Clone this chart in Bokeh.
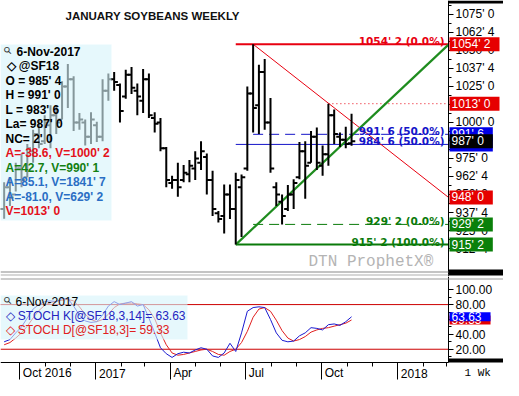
import math
import pandas as pd
from bokeh.plotting import figure
from bokeh.models import (Range1d, FixedTicker, CustomJSTickFormatter, Label,
                          BoxAnnotation, ColumnDataSource)
from bokeh.layouts import column
from bokeh.embed import file_html
from bokeh.resources import INLINE

# ---------------- data ----------------
first_week = "2016-09-12"
opens = [940, 955, 950, 968, 962, 980, 992, 987, 998, 1005, 1002, 1025, 1030, 1000, 1000, 990,
         998, 990, 1022, 1030, 1026, 1018, 1033, 1022, 1015, 1030, 1003, 1000, 982, 958, 960, 960,
         964, 968, 972, 976, 960, 937, 935, 950, 940, 955, 968, 1020, 1012, 1035, 1000, 955, 945,
         940, 950, 962, 980, 972, 990, 970, 978, 1005, 990, 988, 985.5]
highs = [958.5, 962, 972, 978.5, 985, 995, 1002, 1005, 1012, 1012, 1028.5, 1040.5, 1032, 1006.5, 1002, 1007,
         1000.5, 1030, 1034, 1035, 1027, 1036.5, 1038.5, 1027, 1037, 1034, 1007, 1003, 983, 963, 972, 970.5,
         974, 980, 987, 978.5, 966.5, 938.5, 957, 957, 965, 963.8, 1025, 1054.25, 1040, 1044, 1017, 958.5, 950,
         956.5, 960.5, 986.5, 987, 994, 996.5, 984, 1013, 1009, 993, 997, 1006]
lows = [933.2, 942, 952, 955, 962, 972, 982, 985, 982, 992, 1002, 1010, 994, 995, 984, 985,
        986.5, 987, 1015, 1022, 1000, 1016.5, 1019.8, 1005, 1006.5, 1003, 993, 980, 955, 954, 948.5, 958.5,
        958.5, 960, 967, 950, 935, 930.5, 923, 933, 915.25, 920.5, 966.5, 993, 992, 995, 965, 942, 929.25,
        938.5, 940, 960.5, 947, 972, 967, 963, 970, 985, 983, 982, 983.75]
closes = [955, 948, 968, 960, 982, 992, 985, 1000, 1005, 1000, 1025, 1030, 1000, 1002, 990, 1002,
          990, 1022, 1030, 1028, 1008, 1033, 1024, 1018, 1030, 1005, 999, 982, 960, 960, 955, 965,
          970, 975, 980, 960, 940, 933, 950, 940, 960, 962, 1020, 1010, 1035, 1000, 968, 950, 935,
          950, 958, 980, 970, 990, 972, 978, 1005, 992, 988, 985, 987]
stoch_k = [30, 33, 42, 50, 62, 74, 80, 84, 85, 84, 88, 88, 78, 66, 58, 56,
           57, 66, 78, 84, 80, 82, 84, 78, 80, 62, 42, 22, 14, 9, 14, 16,
           15, 19, 22, 20, 11, 9, 15, 28, 17, 42, 71, 76, 77, 76, 60, 42, 32,
           30, 31, 38, 42, 49, 48, 46, 53, 54, 52, 57, 63.63]
stoch_d = [26, 29, 35, 42, 51, 62, 72, 79, 83, 84, 86, 87, 85, 77, 67, 60,
           57, 60, 67, 76, 81, 82, 82, 81, 80, 73, 61, 42, 26, 15, 12, 13,
           15, 17, 19, 20, 17, 13, 12, 17, 20, 29, 44, 63, 74, 76, 71, 59, 45,
           35, 31, 33, 37, 43, 46, 48, 49, 51, 53, 55, 59.33]

fib1_start = "2017-06-19"
fib1_levels = [1054.25, 984.75, 915.25]
fib1_pcts = ["0.0%", "50.0%", "100.0%"]
fib2_start = "2017-07-10"
fib2_levels = [929.25, 991.75]
fib2_pcts = ["0.0%", "50.0%"]
resist_start = "2017-10-09"
resist_level = 1013.0
up_trend_start = ("2017-06-19", 915.25)
up_trend_end_value = 1054.0
down_trend_start = ("2017-07-10", 1054.25)
down_trend_end_value = 948.0
last_price = 987.0
stoch_levels = [80, 20]

price_ticks = [912.5 + 12.5 * i for i in range(14)]
stoch_ticks = [20, 40, 60, 80, 100]
quarter_ticks = ["2016-10-01", "2017-01-01", "2017-04-01", "2017-07-01", "2017-10-01", "2018-01-01"]
quarter_labels = ["Oct 2016", "2017", "Apr", "Jul", "Oct", "2018"]
month_ticks = pd.date_range("2016-09-01", "2018-03-01", freq="MS")

info_lines = [("6-Nov-2017", "#000000"), ("\u25c7 @SF18", "#000000"), ("O = 985' 4", "#000000"),
              ("H = 991' 0", "#000000"), ("L = 983' 6", "#000000"), ("La= 987' 0", "#000000"),
              ("NC= 2' 0", "#000000"), ("A=-38.6, V=1000' 2", "#e3121b"),
              ("A=42.7, V=990' 1", "#128012"), ("A=85.1, V=1841' 7", "#2a6ec4"),
              ("A=-81.0, V=629' 2", "#2a6ec4"), ("V=1013' 0", "#e3121b")]
stoch_info = [("6-Nov-2017", "#000000"), ("\u25c7 STOCH K[@SF18,3,14]= 63.63", "#2424c0"),
              ("\u25c7 STOCH D[@SF18,3]= 59.33", "#e02020")]

# ---------------- helpers ----------------
def q(v):
    w = math.floor(v + 1e-9)
    e = int(round((v - w) * 8))
    return f"{w}' {e}"

dates = pd.date_range(first_week, periods=len(highs), freq="7D")

W = 503          # canvas width
AX = 448         # x pixel of the price axis
x_start = pd.Timestamp("2016-09-07 14:00")
x_axis = pd.Timestamp("2018-03-03 05:00")
days_per_px = (x_axis - x_start) / AX
x_full_end = x_start + days_per_px * W
x_axis_ms = x_axis.value / 1e6
xr = Range1d(x_start, x_full_end)

MAIN_H = 276
ST_H = 104
ST_TOP_V, ST_AX_V = 113.72, 2.18      # stoch values at data-area top / axis line
ST_PX_PER = 83 / (ST_TOP_V - ST_AX_V)
st_lo = ST_AX_V - 18 / ST_PX_PER
st_hi = ST_TOP_V + 3 / ST_PX_PER

FONT = "Liberation Sans"
RED, BLUE, DGREEN = "#e80010", "#1414c8", "#0a7a0a"

quote_fmt = CustomJSTickFormatter(code="""
const w = Math.floor(tick + 1e-9);
const e = Math.round((tick - w) * 8);
return w + "' " + e;""")


def box(fig, l, r, b, t, color, alpha=1.0):
    fig.add_layout(BoxAnnotation(left=l, right=r, bottom=b, top=t, left_units="screen",
                                 right_units="screen", bottom_units="screen", top_units="screen",
                                 fill_color=color, fill_alpha=alpha, line_color=None,
                                 line_alpha=0))


def tag(fig, y, text, bg):
    fig.add_layout(Label(x=AX + 1, y=y, x_units="screen", y_units="data", text=text,
                         text_font=FONT, text_font_size="12px", text_color="white",
                         text_baseline="middle", background_fill_color=bg,
                         padding={"left": 2, "right": 9, "top": 0, "bottom": 0}))


def magnifier(fig, x, y):
    fig.add_layout(Label(x=x, y=y, x_units="screen", y_units="screen", text="\u26b2",
                         angle=math.pi / 4, text_font="DejaVu Sans", text_font_size="10px",
                         text_color="#333333", text_baseline="middle", text_align="center"))


def style_yaxis(ax):
    ax.fixed_location = x_axis_ms
    ax.major_label_text_font = FONT
    ax.major_label_text_font_size = "12px"
    ax.major_label_text_color = "black"
    ax.major_tick_out = 5
    ax.major_tick_in = 0
    ax.minor_tick_out = 3
    ax.minor_tick_in = 0
    ax.major_label_standoff = 2
    ax.axis_line_color = "black"


# ---------------- main price panel ----------------
p = figure(width=W, height=MAIN_H, x_range=xr, y_range=Range1d(893.1, 1084.6),
           x_axis_location=None, y_axis_location="right", toolbar_location=None,
           output_backend="svg", min_border=0, min_border_left=0, min_border_right=0,
           min_border_top=0, min_border_bottom=0, outline_line_color=None,
           background_fill_color="white", border_fill_color="white")
p.xgrid.visible = False
p.ygrid.visible = False
ya = p.yaxis[0]
ya.ticker = FixedTicker(ticks=price_ticks, minor_ticks=[t + 6.25 for t in price_ticks])
ya.formatter = quote_fmt
style_yaxis(ya)

fib1_x = pd.Timestamp(fib1_start)
fib2_x = pd.Timestamp(fib2_start)
p.segment(x0=[fib1_x], x1=[x_axis], y0=[fib1_levels[0]], y1=[fib1_levels[0]], line_color=RED, line_width=2)
p.segment(x0=[fib1_x], x1=[x_axis], y0=[fib1_levels[1]], y1=[fib1_levels[1]], line_color=BLUE, line_width=1)
p.segment(x0=[fib1_x], x1=[x_axis], y0=[fib1_levels[2]], y1=[fib1_levels[2]], line_color=DGREEN, line_width=2)
p.segment(x0=[fib2_x], x1=[x_axis], y0=[fib2_levels[0]], y1=[fib2_levels[0]], line_color=DGREEN,
          line_width=1, line_dash="10 6")
p.segment(x0=[fib2_x], x1=[x_axis], y0=[fib2_levels[1]], y1=[fib2_levels[1]], line_color=BLUE,
          line_width=1, line_dash="10 6")
p.segment(x0=[pd.Timestamp(resist_start)], x1=[x_axis], y0=[resist_level], y1=[resist_level],
          line_color=RED, line_width=1, line_dash="1 3")
p.segment(x0=[pd.Timestamp(down_trend_start[0])], x1=[x_axis], y0=[down_trend_start[1]],
          y1=[down_trend_end_value], line_color=RED, line_width=1)
p.segment(x0=[pd.Timestamp(up_trend_start[0])], x1=[x_axis], y0=[up_trend_start[1]],
          y1=[up_trend_end_value], line_color="#1e8c1e", line_width=2.2)

src = ColumnDataSource(dict(x=dates, o=opens, h=highs, l=lows, c=closes,
                            xl=dates - pd.Timedelta(days=4.5), xr=dates + pd.Timedelta(days=4.5)))
p.segment(x0="x", x1="x", y0="l", y1="h", source=src, line_color="black", line_width=2)
p.segment(x0="xl", x1="x", y0="o", y1="o", source=src, line_color="black", line_width=2)
p.segment(x0="x", x1="xr", y0="c", y1="c", source=src, line_color="black", line_width=2)


def fib_text(level, pct, color):
    p.add_layout(Label(x=AX - 4, y=level, x_units="screen", y_units="data",
                       text=f"{q(level)} ({pct})", text_align="right", text_baseline="alphabetic",
                       y_offset=3, text_font="DejaVu Sans", text_font_style="bold",
                       text_font_size="10.5px", text_color=color))


fib_text(fib1_levels[0], fib1_pcts[0], RED)
fib_text(fib2_levels[1], fib2_pcts[1], BLUE)
fib_text(fib1_levels[1], fib1_pcts[1], BLUE)
fib_text(fib2_levels[0], fib2_pcts[0], DGREEN)
fib_text(fib1_levels[2], fib1_pcts[2], DGREEN)

# info box
box(p, 0, 111, 56, 232, "#d6f3fa", 0.62)
for i, (t, c) in enumerate(info_lines):
    xo = 16 if i == 0 else (6 if i == 1 else 5)
    p.add_layout(Label(x=xo, y=225 - 14.5 * i, x_units="screen", y_units="screen",
                       text=t, text_color=c, text_font=FONT, text_font_style="bold",
                       text_font_size="12px", text_baseline="middle"))
magnifier(p, 7, 226)

p.add_layout(Label(x=65, y=260.5, x_units="screen", y_units="screen",
                   text="JANUARY SOYBEANS WEEKLY", text_font=FONT, text_font_style="bold",
                   text_font_size="11.5px", text_baseline="middle", text_color="#111111"))
p.add_layout(Label(x=308, y=14.7, x_units="screen", y_units="screen", text="DTN ProphetX\u00ae",
                   text_font="Liberation Mono", text_font_size="16px", text_color="#b4b4b4",
                   text_baseline="middle"))

# frame decorations
box(p, AX, W, 273, 276, "black")
box(p, AX, W, 1, 7, "black")
box(p, 0, AX, 4, 5, "#8a8a8a")
box(p, 0, AX, 1, 2, "#b0b0b0")

tag(p, fib1_levels[0], q(fib1_levels[0]), "#e60000")
tag(p, resist_level, q(resist_level), "#e60000")
tag(p, fib2_levels[1], q(fib2_levels[1]), "#0000e6")
tag(p, fib1_levels[1], q(fib1_levels[1]), "#0000e6")
tag(p, last_price, q(last_price), "black")
tag(p, down_trend_end_value, q(down_trend_end_value), "#e60000")
tag(p, fib2_levels[0], q(fib2_levels[0]), "#0a800a")
tag(p, fib1_levels[2], q(fib1_levels[2]), "#0a800a")

# ---------------- stochastic panel ----------------
s = figure(width=W, height=ST_H, x_range=xr, y_range=Range1d(st_lo, st_hi),
           x_axis_type="datetime", x_axis_location="below", y_axis_location="right",
           toolbar_location=None, output_backend="svg", min_border=0, min_border_left=0,
           min_border_right=0, min_border_top=0, min_border_bottom=0,
           outline_line_color=None, background_fill_color="white", border_fill_color="white")
s.xgrid.visible = False
s.ygrid.visible = False
sy = s.yaxis[0]
sy.ticker = FixedTicker(ticks=stoch_ticks, minor_ticks=[10, 30, 50, 70, 90])
sy.formatter = CustomJSTickFormatter(code="return tick.toFixed(2);")
style_yaxis(sy)
sy.bounds = (ST_AX_V, st_hi)

sx = s.xaxis[0]
sx.fixed_location = ST_AX_V
sx.bounds = (x_start.value / 1e6, x_axis_ms)
sx.ticker = FixedTicker(ticks=[pd.Timestamp(t).value / 1e6 for t in quarter_ticks],
                        minor_ticks=[t.value / 1e6 for t in month_ticks])
sx.formatter = CustomJSTickFormatter(code="return '';")
sx.major_tick_out = 17
sx.major_tick_in = 0
sx.minor_tick_out = 4
sx.minor_tick_in = 0
sx.major_label_text_font_size = "1px"
sx.axis_line_color = "black"

s.segment(x0=[x_start] * len(stoch_levels), x1=[x_axis] * len(stoch_levels),
          y0=stoch_levels, y1=stoch_levels, line_color="#cc0000", line_width=1)
s.line(dates, stoch_d, line_color="#e02020", line_width=1)
s.line(dates, stoch_k, line_color="#1a1ad0", line_width=1)

box(s, 0, 187, 41, 85, "#d6f3fa", 0.62)
for i, (t, c) in enumerate(stoch_info):
    s.add_layout(Label(x=15 if i == 0 else 5, y=79 - 14.3 * i, x_units="screen", y_units="screen",
                       text=t, text_color=c, text_font=FONT, text_font_size="12px",
                       text_baseline="middle"))
magnifier(s, 7, 80)

for t, lab in zip(quarter_ticks, quarter_labels):
    s.add_layout(Label(x=pd.Timestamp(t), y=7.5, x_units="data", y_units="screen", text=lab,
                       x_offset=3, text_font=FONT, text_font_size="12px", text_color="black",
                       text_baseline="middle"))
s.add_layout(Label(x=AX + 16, y=7.5, x_units="screen", y_units="screen", text="1 Wk",
                   text_font="Liberation Mono", text_font_size="11px", text_color="black",
                   text_baseline="middle"))

box(s, 0, W, 101, 102, "#9a9a9a")
box(s, AX, W, 18, 22, "black")

tag(s, stoch_d[-1], f"{stoch_d[-1]:.2f}", "#e60000")
tag(s, stoch_k[-1], f"{stoch_k[-1]:.2f}", "#0000ff")

layout = column(p, s, spacing=0)
open("out.html", "w").write(file_html(layout, INLINE))
